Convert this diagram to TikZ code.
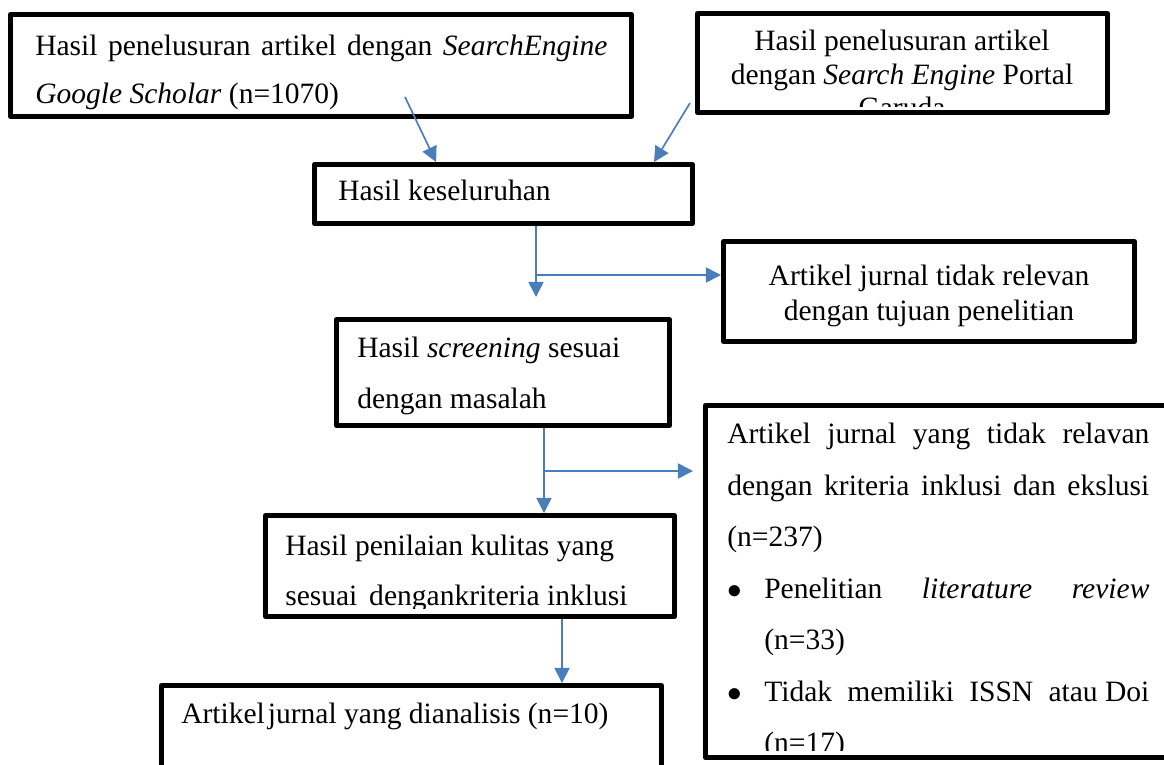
\documentclass[tikz,border=0pt]{standalone}
\usepackage{fontspec}
\setmainfont{Liberation Serif}
\usetikzlibrary{arrows.meta, positioning, calc}
\definecolor{FlowBlue}{HTML}{4A7EBB}

\begin{document}
\begin{tikzpicture}[x=0.025cm, y=-0.025cm,
  box/.style={draw, line width=3.5pt, line join=round, inner sep=0pt},
  txt/.style={inner sep=0pt, align=left, font=\fontsize{21}{34}\selectfont},
  flow/.style={draw=FlowBlue, line width=1.2pt, -{Triangle[length=3.8mm, width=3.8mm]}}]
  \useasboundingbox (0,0) rectangle (1164,764);
  \clip (0,0) rectangle (1164,764);

  \node (b1) [box, minimum width=15.525cm, minimum height=2.55cm] at (321,65.5) {};
  \node (b2) [box, minimum width=10.25cm, minimum height=2.475cm] at (902.5,63) {};
  \node (b3) [box, minimum width=9.45cm, minimum height=1.475cm] at (503.5,194) {};
  \node (b4) [box, minimum width=10.275cm, minimum height=2.5cm] at (929,291.5) {};
  \node (b5) [box, minimum width=8.325cm, minimum height=2.65cm] at (503,372.5) {};
  \node (b6) [box, minimum width=12.375cm, minimum height=8.8cm] at (952.75,581.5) {};
  \node (b7) [box, minimum width=10.225cm, minimum height=2.525cm] at (470,566) {};
  \node (b8) [box, minimum width=12.5cm, minimum height=3.3625cm] at (411.5,752.75) {};

  \begin{scope}
    \clip (b1.south west) rectangle (b1.north east);
    \node (t1) [txt, anchor=north west] at (35,35) {\makebox[14.3cm][s]{Hasil penelusuran artikel dengan \textit{SearchEngine}}\\\textit{Google Scholar} (n=1070)};
  \end{scope}
  \begin{scope}
    \clip (b2.north west) rectangle ($(b2.south east)+(0,-8)$);
    \node (t2) [txt, align=center, font=\fontsize{21}{23.8}\selectfont, anchor=north] at (902,30) {Hasil penelusuran artikel\\dengan \textit{Search Engine} Portal\\Garuda};
  \end{scope}
  \node (t3) [txt, anchor=north west] at (338,180) {Hasil keseluruhan};
  \node (t4) [txt, align=center, font=\fontsize{21}{24.9}\selectfont, anchor=north] at (929,265) {Artikel jurnal tidak relevan\\dengan tujuan penelitian};
  \node (t5) [txt, font=\fontsize{21}{36.3}\selectfont, anchor=north west] at (357,337) {Hasil \textit{screening} sesuai\\dengan masalah};
  \begin{scope}
    \clip (b6.north west) rectangle ($(b6.south east)+(0,-10)$);
    \node (t6) [txt, font=\fontsize{21}{36.6}\selectfont, anchor=north west] at (727,423) {%
      \makebox[10.55cm][s]{Artikel jurnal yang tidak relavan}\\
      \makebox[10.55cm][s]{dengan kriteria inklusi dan ekslusi}\\
      (n=237)\\
      \makebox[0.925cm][l]{$\bullet$}\makebox[9.625cm][s]{Penelitian \textit{literature} \textit{review}}\\
      \hspace*{0.925cm}(n=33)\\
      \makebox[0.925cm][l]{$\bullet$}\makebox[9.625cm][s]{Tidak memiliki ISSN atau\hspace{0.25em}Doi}\\
      \hspace*{0.925cm}(n=17)};
  \end{scope}
  \begin{scope}
    \clip (b7.north west) rectangle ($(b7.south east)+(0,-10)$);
    \node (t7) [txt, font=\fontsize{21}{35.6}\selectfont, anchor=north west] at (285,535) {Hasil penilaian kulitas yang\\sesuai\hspace{0.15em} dengankriteria inklusi};
  \end{scope}
  \node (t8) [txt, anchor=north west] at (181,703) {Artikel\hspace{0.1em}jurnal yang dianalisis (n=10)};

  \coordinate (s1) at (405,97);
  \coordinate (s2) at (690,103);
  \coordinate (d1) at (536,297);
  \coordinate (k1) at (536,275);
  \coordinate (d2) at (544,471);
  \coordinate (e2) at (693,471);
  \coordinate (d3) at (562,650);

  \draw[flow] (s1) -- ($(b3.north west)!0.324!(b3.north east)$);
  \draw[flow] (s2) -- ($(b3.north west)!0.893!(b3.north east)$);
  \draw[flow] (b3.south -| d1) -- (d1);
  \draw[flow] (k1) -- (k1 -| b4.west);
  \draw[flow] (b5.south -| d2) -- (b7.north -| d2);
  \draw[flow] (d2) -- (e2);
  \draw[flow] (b7.south -| d3) -- (b8.north -| d3);
\end{tikzpicture}
\end{document}
